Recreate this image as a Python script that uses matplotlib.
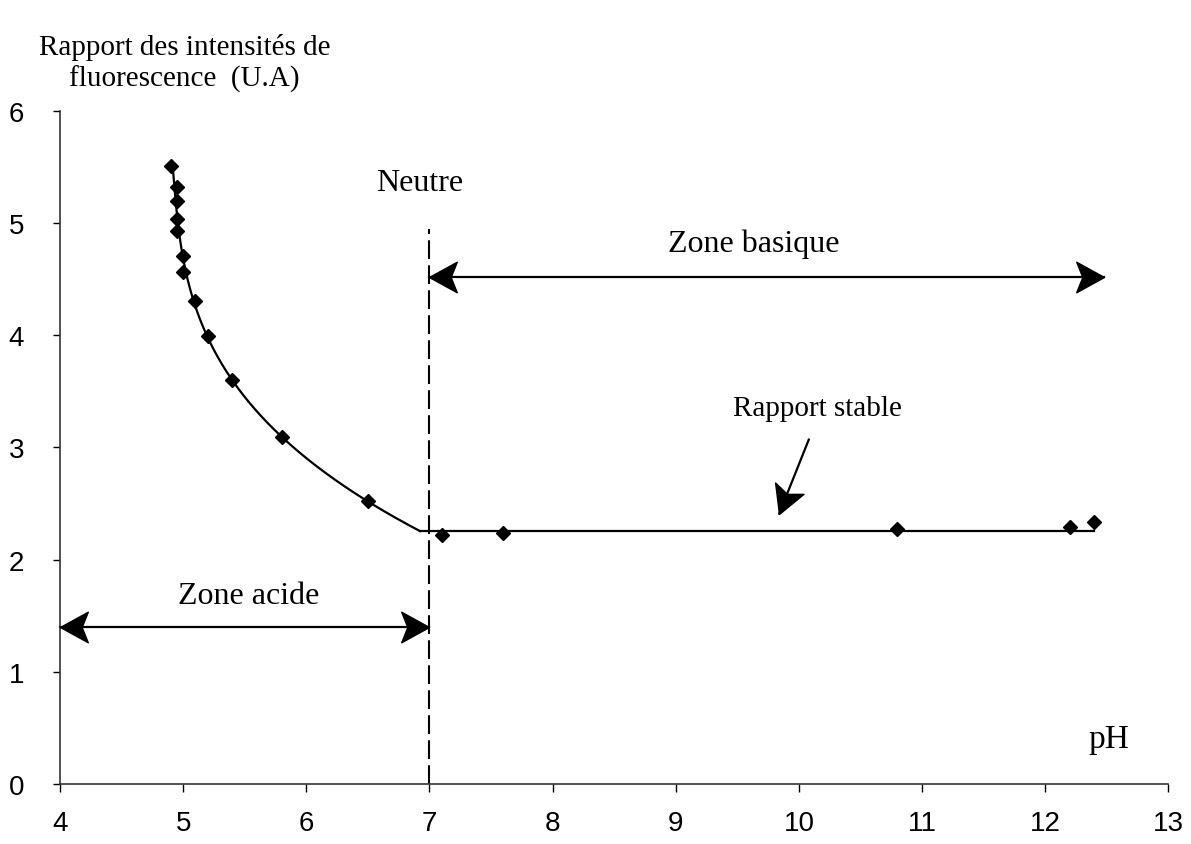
import matplotlib.pyplot as plt
from matplotlib.path import Path
from matplotlib.markers import MarkerStyle
from matplotlib.transforms import Affine2D
import numpy as np

# pH / rapport des intensités
ph_acide = [4.90, 4.95, 4.95, 4.95, 4.95, 5.00, 5.00, 5.10, 5.20, 5.40, 5.80, 6.50]
ratio_acide = [5.51, 5.32, 5.20, 5.04, 4.93, 4.71, 4.56, 4.31, 3.99, 3.60, 3.09, 2.52]
ph_basique = [7.10, 7.60, 10.80, 12.20, 12.40]
ratio_basique = [2.22, 2.24, 2.27, 2.29, 2.34]

serif = ["Liberation Serif", "DejaVu Serif"]
plt.rcParams["font.family"] = ["Liberation Sans", "DejaVu Sans"]

fig = plt.figure(figsize=(11.91, 8.45), dpi=100)
ax = fig.add_axes([0.0504, 0.071, 0.9306, 0.7965])
ax.set_xlim(4, 13)
ax.set_ylim(0, 6)

# courbes de tendance
niveau = np.mean(ratio_basique[:-1])
c = np.polyfit(ratio_acide, ph_acide, 3)
yy = np.linspace(max(ratio_acide), niveau, 400)
xc = np.polyval(c, yy)
keep = xc <= 7.0
ax.plot(xc[keep], yy[keep], color="black", lw=1.6, zorder=2)
ax.plot([xc[keep][-1], 12.4], [niveau, niveau], color="black", lw=1.6, zorder=2)

ax.plot(ph_acide + ph_basique, ratio_acide + ratio_basique, linestyle="none",
        marker="D", markersize=7, color="black", zorder=3)

ax.set_xticks(range(4, 14))
ax.set_yticks(range(0, 7))
ax.spines["top"].set_visible(False)
ax.spines["right"].set_visible(False)
for s in ("left", "bottom"):
    ax.spines[s].set_linewidth(1.2)
    ax.spines[s].set_color("#333333")
ax.tick_params(axis="x", direction="out", length=6, width=1, pad=13, labelsize=20)
ax.tick_params(axis="y", direction="out", length=5, width=1, pad=21, labelsize=20)

# ligne neutre
ax.plot([7, 7], [0, 4.95], color="black", lw=1.5, linestyle=(0, (9, 3)), zorder=1)

# flèches (pointe effilée)
head = Path([(0, 0), (-1, 0.55), (-0.78, 0), (-1, -0.55), (0, 0)],
            [Path.MOVETO, Path.LINETO, Path.LINETO, Path.LINETO, Path.CLOSEPOLY])


def fleche(x0, y0, x1, y1, double=False):
    ax.plot([x0, x1], [y0, y1], color="black", lw=1.6, zorder=2, clip_on=False)
    p0, p1 = ax.transData.transform([(x0, y0), (x1, y1)])
    ang = np.degrees(np.arctan2(p1[1] - p0[1], p1[0] - p0[0]))
    ends = [(x1, y1, ang)]
    if double:
        ends.append((x0, y0, ang + 180))
    for x, y, a in ends:
        m = MarkerStyle(head, transform=Affine2D().rotate_deg(a))
        ax.plot([x], [y], marker=m, markersize=40, color="black",
                linestyle="none", zorder=4, clip_on=False)


fleche(4.0, 1.40, 7.0, 1.40, double=True)
fleche(7.0, 4.52, 12.48, 4.52, double=True)
fleche(10.08, 3.07, 9.84, 2.41)

txt = dict(family=serif, ha="center", va="center")
ax.text(5.53, 1.68, "Zone acide", fontsize=23, **txt)
ax.text(9.63, 4.82, "Zone basique", fontsize=23, **txt)
ax.text(6.92, 5.36, "Neutre", fontsize=23, **txt)
ax.text(10.15, 3.35, "Rapport stable", fontsize=21, **txt)
ax.text(12.52, 0.40, "pH", fontsize=24, **txt)

fig.text(0.155, 0.925, "Rapport des intensités de\nfluorescence  (U.A)",
         family=serif, fontsize=21, ha="center", va="center", linespacing=1.2)

fig.savefig("out.png", dpi=100)
